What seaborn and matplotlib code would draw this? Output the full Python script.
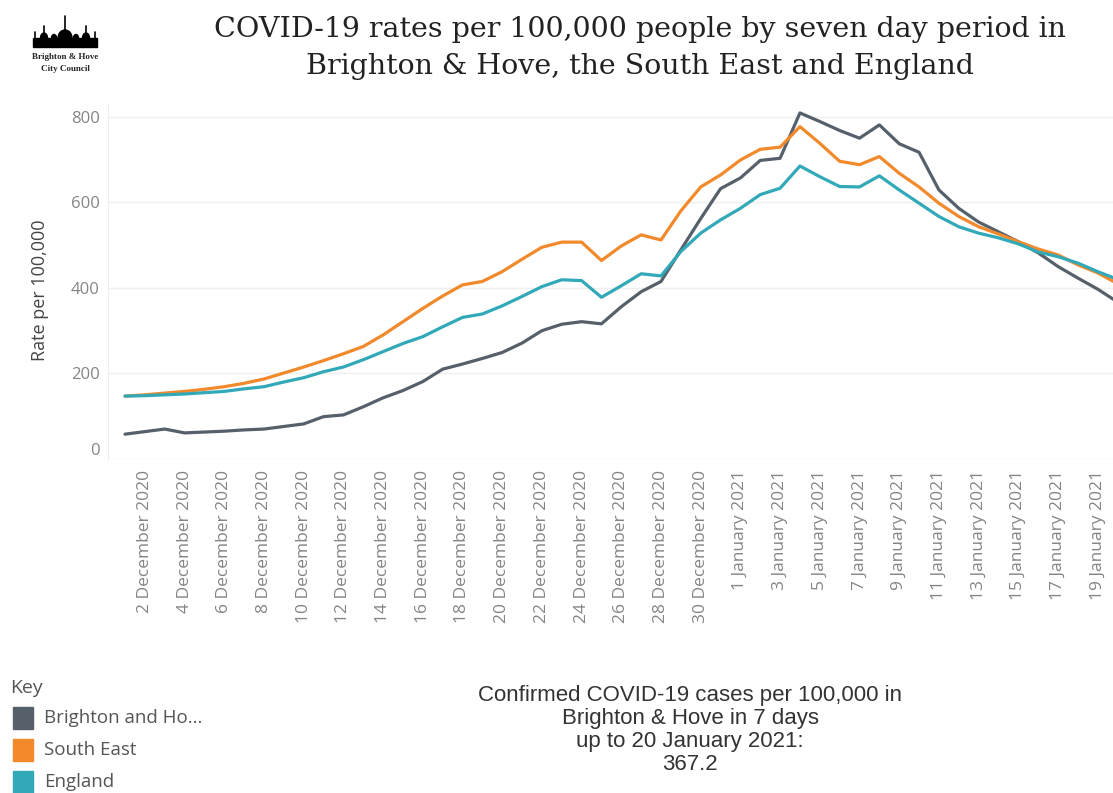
import matplotlib
matplotlib.use("Agg")
import matplotlib.pyplot as plt
from matplotlib.patches import Ellipse, Rectangle
import numpy as np
import pandas as pd
import seaborn as sns

# ── Data (daily 7-day rates, 1 Dec 2020 - 20 Jan 2021) ─────────────────────────
start_date = "2020-12-01"
n_days = 51

brighton = [58, 64, 70, 61, 63, 65, 68, 70, 76, 82,
            99, 103, 122, 143, 160, 181, 210, 222, 235, 249,
            271, 300, 315, 321, 316, 356, 391, 415, 489, 562,
            632, 657, 698, 703, 809, 789, 768, 750, 781, 737,
            717, 629, 586, 554, 531, 508, 482, 450, 423, 397, 367]

south_east = [147, 150, 154, 158, 163, 169, 177, 187, 201, 215,
              230, 246, 263, 290, 321, 352, 381, 407, 415, 438,
              467, 495, 507, 507, 464, 498, 524, 512, 580, 636,
              664, 699, 724, 729, 777, 738, 696, 688, 707, 668,
              636, 598, 567, 543, 526, 508, 491, 477, 454, 435, 410]

england = [147, 148, 150, 152, 155, 158, 164, 169, 180, 190,
           204, 215, 232, 251, 270, 286, 309, 331, 339, 358,
           380, 403, 419, 417, 378, 405, 433, 428, 485, 528,
           559, 586, 618, 633, 685, 660, 637, 636, 662, 629,
           598, 567, 543, 528, 517, 503, 484, 473, 458, 438, 420]

series_names = ["Brighton and Hove", "South East", "England"]
legend_labels = ["Brighton and Ho...", "South East", "England"]
colors = ["#56606b", "#f2892b", "#31a9b8"]

dates = pd.date_range(start_date, periods=n_days, freq="D")
df = pd.DataFrame({
    "date": np.tile(dates, 3),
    "rate": brighton + south_east + england,
    "area": np.repeat(series_names, n_days),
})

# ── Figure ────────────────────────────────────────────────────────────────────
sns.set_style("white")
plt.rcParams["font.family"] = ["Open Sans", "DejaVu Sans"]

fig = plt.figure(figsize=(11.13, 7.93), dpi=100)
ax = fig.add_axes([0.097, 0.4212, 0.903, 0.4477])

sns.lineplot(data=df, x="date", y="rate", hue="area", palette=colors,
             hue_order=series_names, linewidth=2.3, legend=False, ax=ax)

ax.set_xlim(dates[0] - pd.Timedelta(days=0.86), dates[0] + pd.Timedelta(days=49.77))
ax.set_ylim(0, 830)
ax.set_yticks([0, 200, 400, 600, 800])
ax.yaxis.grid(True, color="#efefef", linewidth=1)
ax.xaxis.grid(False)
for s in ["top", "right", "bottom"]:
    ax.spines[s].set_visible(False)
ax.spines["left"].set_color("#eeeeee")

tick_dates = dates[1::2][:25]
ax.set_xticks(tick_dates)
ax.set_xticklabels([f"{d.day} {d.strftime('%B %Y')}" for d in tick_dates],
                   rotation=90, va="top", ha="center")
ax.tick_params(axis="x", length=0, pad=8, labelsize=12.5, labelcolor="#858585")
ax.tick_params(axis="y", length=0, pad=6, labelsize=12, labelcolor="#858585")
ax.set_xlabel("")
ax.set_ylabel("")
ax.get_yticklabels()[0].set_va("bottom")

fig.text(40 / 1113, 1 - 290 / 793, "Rate per 100,000", rotation=90,
         ha="center", va="center", fontsize=13, color="#444444")

# ── Title ─────────────────────────────────────────────────────────────────────
fig.text(640 / 1113, 1 - 48 / 793,
         "COVID-19 rates per 100,000 people by seven day period in\n"
         "Brighton & Hove, the South East and England",
         ha="center", va="center", fontsize=20.5, color="#222222",
         family="DejaVu Serif", linespacing=1.5)

# ── Logo (rough silhouette + name) ───────────────────────────────────────────
def fx(x):
    return x / 1113

def fy(y):
    return 1 - y / 793

fig.patches.append(Rectangle((fx(33), fy(47)), fx(64), 9 / 793, color="black",
                             transform=fig.transFigure, figure=fig))
for cx, w, h in [(65, 14, 16), (44, 7, 10), (86, 7, 10), (54, 5, 7), (76, 5, 7)]:
    fig.patches.append(Ellipse((fx(cx), fy(38)), w / 1113, h / 793, color="black",
                               transform=fig.transFigure, figure=fig))
for cx, top in [(65, 16), (44, 26), (86, 26), (35, 32), (95, 32)]:
    fig.lines.append(plt.Line2D([fx(cx), fx(cx)], [fy(top), fy(40)], color="black",
                                linewidth=1.2, transform=fig.transFigure, figure=fig))
fig.text(fx(65), fy(57), "Brighton & Hove", ha="center", va="center",
         fontsize=6.5, fontweight="bold", family="Liberation Serif")
fig.text(fx(65), fy(69), "City Council", ha="center", va="center",
         fontsize=6.5, fontweight="bold", family="Liberation Serif")

# ── Key ───────────────────────────────────────────────────────────────────────
fig.text(fx(10), fy(688), "Key", ha="left", va="center", fontsize=14, color="#555555")
for i, (lab, c) in enumerate(zip(legend_labels, colors)):
    y = 718 + i * 32
    fig.patches.append(Rectangle((fx(13), fy(y + 11)), 20 / 1113, 22 / 793, color=c,
                                 transform=fig.transFigure, figure=fig))
    fig.text(fx(44), fy(y), lab, ha="left", va="center", fontsize=13.5, color="#555555")

# ── Summary text ──────────────────────────────────────────────────────────────
latest_value = 367.2
fig.text(fx(690), fy(730),
         "Confirmed COVID-19 cases per 100,000 in\nBrighton & Hove in 7 days\n"
         f"up to 20 January 2021:\n{latest_value}",
         ha="center", va="center", fontsize=16, color="#333333",
         family="Liberation Sans", linespacing=1.12)

fig.savefig("out.png", dpi=100)
